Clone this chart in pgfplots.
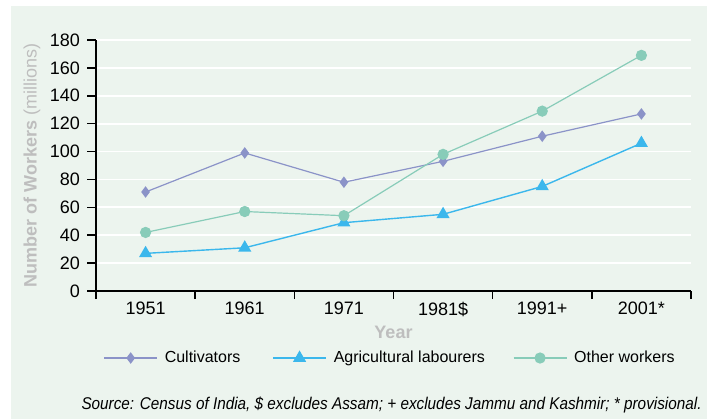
\documentclass[border=0pt]{standalone}
\usepackage{pgfplots}
\pgfplotsset{compat=1.18}
\usepackage{fontspec}
\setmainfont{Liberation Sans}
\usepackage{graphicx}

\definecolor{panelbg}{HTML}{ECF4EE}
\definecolor{cultcol}{HTML}{8B93C8}
\definecolor{agcol}{HTML}{3BB7EC}
\definecolor{othcol}{HTML}{88CCB9}
\definecolor{labgrey}{HTML}{BEBEBE}

\begin{document}
\begin{tikzpicture}
% panel background
\fill[panelbg] (5.5pt,-3pt) rectangle (353.5pt,-209.5pt);

\begin{axis}[
  at={(48pt,-145.5pt)}, anchor=south west,
  scale only axis, width=297.5pt, height=125.5pt,
  xmin=-0.5, xmax=5.5, ymin=0, ymax=180,
  axis x line*=bottom, axis y line*=left,
  axis line style={-, line width=1pt, black},
  ytick={0,20,...,180},
  xtick={0,...,5},
  xticklabels={1951,1961,1971,1981\$,1991+,2001*},
  minor xtick={-0.5,0.5,...,5.5},
  tick align=outside,
  major tick length=4.5pt, minor tick length=4pt,
  major x tick style={draw=none},
  major y tick style={black, line width=0.8pt},
  minor x tick style={black, line width=0.8pt},
  ymajorgrids, grid style={white, line width=0.9pt},
  tick label style={font=\fontsize{9}{11}\selectfont},
  xticklabel style={yshift=2.5pt},
  /pgf/number format/assume math mode=true,
  xlabel={\textbf{Year}},
  ylabel={\textbf{Number of Workers} (millions)},
  label style={font=\fontsize{9}{11}\selectfont, text=labgrey},
  xlabel style={at={(axis description cs:0.5,0)}, anchor=center, yshift=-20.5pt},
  ylabel style={at={(axis description cs:-0.1076,0.5)}, anchor=center},
  clip=false,
  legend columns=3,
  legend style={at={(axis description cs:0.496,-0.267)}, anchor=center,
    draw=none, fill=none, font=\fontsize{8}{10}\selectfont,
    /tikz/every odd column/.style={column sep=1.5pt},
    /tikz/column 2/.style={column sep=14pt},
    /tikz/column 4/.style={column sep=12pt}},
  legend image code/.code={\draw[mark repeat=2, mark phase=2, #1]
    plot coordinates {(0pt,0pt) (13.25pt,0pt) (26.5pt,0pt)};},
]
\addplot[cultcol, line width=0.6pt, mark=diamond*, mark size=2.4pt,
  mark options={fill=cultcol, draw=cultcol}]
  coordinates {(0,71) (1,99) (2,78) (3,93) (4,111) (5,127)};
\addlegendentry{Cultivators}
\addplot[agcol, line width=0.7pt, mark=triangle*, mark size=3.1pt,
  mark options={fill=agcol, draw=agcol}]
  coordinates {(0,27) (1,31) (2,49) (3,55) (4,75) (5,106)};
\addlegendentry{Agricultural labourers}
\addplot[othcol, line width=0.6pt, mark=*, mark size=2.5pt,
  mark options={fill=othcol, draw=othcol}]
  coordinates {(0,42) (1,57) (2,54) (3,98) (4,129) (5,169)};
\addlegendentry{Other workers}
\end{axis}

\node[anchor=base east, inner sep=0pt] at (351pt,-204.5pt)
  {\scalebox{0.9}[1]{\fontsize{8.5}{10}\selectfont\itshape Source: Census of India, \$ excludes Assam; + excludes Jammu and Kashmir; * provisional.}};

\pgfresetboundingbox
\path (0pt,0pt) rectangle (353.5pt,-209.5pt);
\end{tikzpicture}
\end{document}
